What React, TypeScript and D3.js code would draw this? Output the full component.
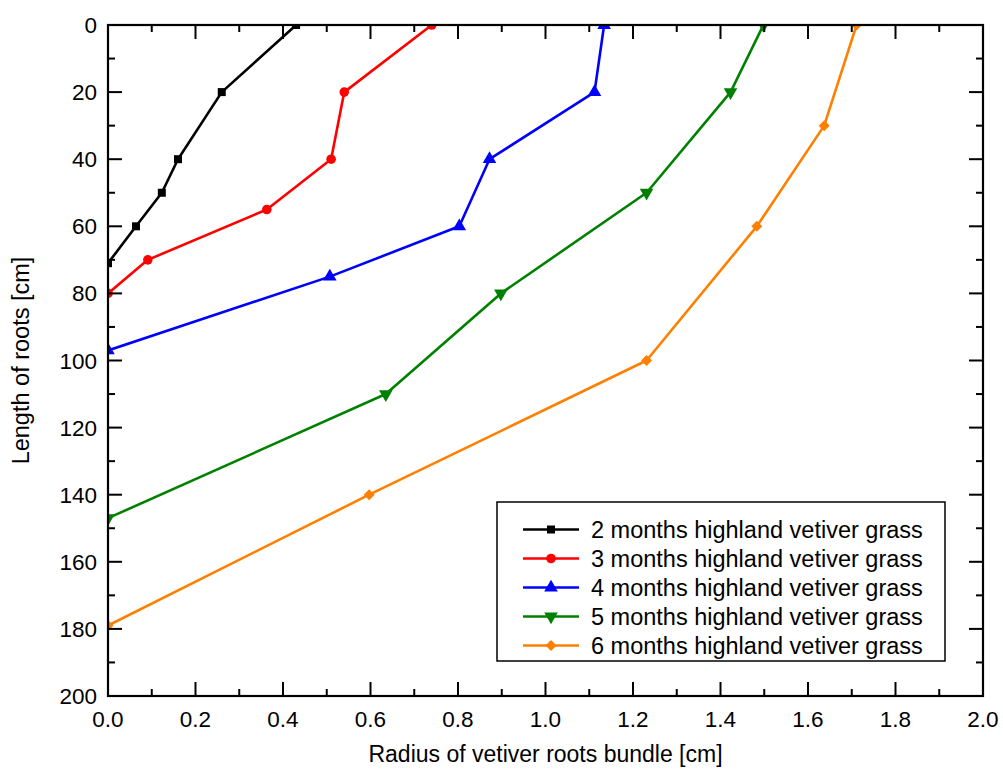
import React from 'react';
import * as d3 from 'd3';

// radius [cm] vs. length of roots [cm]
const seriesNames = [
  '2 months highland vetiver grass',
  '3 months highland vetiver grass',
  '4 months highland vetiver grass',
  '5 months highland vetiver grass',
  '6 months highland vetiver grass',
];
const radius2 = [0.43, 0.26, 0.16, 0.123, 0.064, 0.0];
const length2 = [0, 20, 40, 50, 60, 71];
const radius3 = [0.74, 0.54, 0.51, 0.363, 0.091, 0.0];
const length3 = [0, 20, 40, 55, 70, 80];
const radius4 = [1.134, 1.112, 0.872, 0.803, 0.507, 0.0];
const length4 = [0, 20, 40, 60, 75, 97];
const radius5 = [1.498, 1.423, 1.231, 0.898, 0.635, 0.0];
const length5 = [0, 20, 50, 80, 110, 147];
const radius6 = [1.711, 1.637, 1.483, 1.231, 0.597, 0.0];
const length6 = [0, 30, 60, 100, 140, 179];
const xTicks = [0, 0.2, 0.4, 0.6, 0.8, 1.0, 1.2, 1.4, 1.6, 1.8, 2.0];
const yTicks = [0, 20, 40, 60, 80, 100, 120, 140, 160, 180, 200];

const colors = ['#000000', '#ff0000', '#0000ff', '#008000', '#ff8000'];
const shapes = ['square', 'circle', 'up', 'down', 'diamond'];

const W = 1003;
const H = 780;
const margin = { top: 25, right: 20, bottom: 84, left: 108 };
const FONT = 'Liberation Sans, Arial, sans-serif';

function Marker({ kind, x, y, color }: { kind: string; x: number; y: number; color: string }) {
  let p = '';
  let rot = 0;
  if (kind === 'square') p = d3.symbol(d3.symbolSquare, 64)()!;
  else if (kind === 'circle') p = d3.symbol(d3.symbolCircle, 72)()!;
  else if (kind === 'up') p = d3.symbol(d3.symbolTriangle, 80)()!;
  else if (kind === 'down') {
    p = d3.symbol(d3.symbolTriangle, 80)()!;
    rot = 180;
  } else {
    p = d3.symbol(d3.symbolSquare, 60)()!;
    rot = 45;
  }
  return <path d={p} transform={`translate(${x},${y}) rotate(${rot})`} fill={color} />;
}

export default function App() {
  const iw = W - margin.left - margin.right;
  const ih = H - margin.top - margin.bottom;
  const x = d3.scaleLinear().domain([0, 2]).range([0, iw]);
  const y = d3.scaleLinear().domain([0, 200]).range([0, ih]);

  const allX = [radius2, radius3, radius4, radius5, radius6];
  const allY = [length2, length3, length4, length5, length6];
  const series = allX.map((xs, i) => xs.map((v, j) => [v, allY[i][j]] as [number, number]));

  const line = d3.line<[number, number]>().x((d) => x(d[0])).y((d) => y(d[1]));

  const xMinor = d3.range(1, 20, 2).map((k) => k / 10);
  const yMinor = d3.range(10, 200, 20);
  const major = 14;
  const minor = 7;

  const legend = { x: 389, y: 477, w: 448, h: 159 };

  return (
    <svg width={W} height={H} style={{ position: 'absolute', left: 0, top: 0, background: '#fff' }} fontFamily={FONT}>
      <defs>
        <clipPath id="plot-clip">
          <rect x={0} y={0} width={iw} height={ih} />
        </clipPath>
      </defs>
      <g transform={`translate(${margin.left},${margin.top})`}>
        <g clipPath="url(#plot-clip)">
          {series.map((s, i) => (
            <g key={i}>
              <path d={line(s)!} fill="none" stroke={colors[i]} strokeWidth={2.6} strokeLinejoin="round" />
              {s.map((d, j) => (
                <Marker key={j} kind={shapes[i]} x={x(d[0])} y={y(d[1])} color={colors[i]} />
              ))}
            </g>
          ))}
        </g>

        {/* ticks, mirrored on all four sides, pointing inward */}
        <g stroke="#000" strokeWidth={2}>
          {xTicks.map((t) => (
            <g key={'xt' + t}>
              <line x1={x(t)} x2={x(t)} y1={ih} y2={ih - major} />
              <line x1={x(t)} x2={x(t)} y1={0} y2={major} />
            </g>
          ))}
          {xMinor.map((t) => (
            <g key={'xm' + t}>
              <line x1={x(t)} x2={x(t)} y1={ih} y2={ih - minor} />
              <line x1={x(t)} x2={x(t)} y1={0} y2={minor} />
            </g>
          ))}
          {yTicks.map((t) => (
            <g key={'yt' + t}>
              <line x1={0} x2={major} y1={y(t)} y2={y(t)} />
              <line x1={iw} x2={iw - major} y1={y(t)} y2={y(t)} />
            </g>
          ))}
          {yMinor.map((t) => (
            <g key={'ym' + t}>
              <line x1={0} x2={minor} y1={y(t)} y2={y(t)} />
              <line x1={iw} x2={iw - minor} y1={y(t)} y2={y(t)} />
            </g>
          ))}
        </g>
        <rect x={0} y={0} width={iw} height={ih} fill="none" stroke="#000" strokeWidth={2.2} />

        {/* tick labels */}
        {xTicks.map((t) => (
          <text key={'xl' + t} x={x(t)} y={ih + 31} textAnchor="middle" fontSize={22.5} fill="#000">
            {d3.format('.1f')(t)}
          </text>
        ))}
        {yTicks.map((t) => (
          <text key={'yl' + t} x={-11} y={y(t) + 8} textAnchor="end" fontSize={22.5} fill="#000">
            {t}
          </text>
        ))}

        {/* axis titles */}
        <text x={iw / 2} y={ih + 66} textAnchor="middle" fontSize={23} fill="#000">
          Radius of vetiver roots bundle [cm]
        </text>
        <text transform={`translate(-79,${ih / 2}) rotate(-90)`} textAnchor="middle" fontSize={23.5} fill="#000">
          Length of roots [cm]
        </text>

        {/* legend */}
        <g transform={`translate(${legend.x},${legend.y})`}>
          <rect x={0} y={0} width={legend.w} height={legend.h} fill="#fff" stroke="#000" strokeWidth={1.5} />
          {seriesNames.map((name, i) => {
            const cy = 27.5 + i * 29;
            return (
              <g key={name}>
                <line x1={26} x2={82} y1={cy} y2={cy} stroke={colors[i]} strokeWidth={2.6} />
                <Marker kind={shapes[i]} x={54} y={cy} color={colors[i]} />
                <text x={94} y={cy + 8} fontSize={23.5} fill="#000">
                  {name}
                </text>
              </g>
            );
          })}
        </g>
      </g>
    </svg>
  );
}
